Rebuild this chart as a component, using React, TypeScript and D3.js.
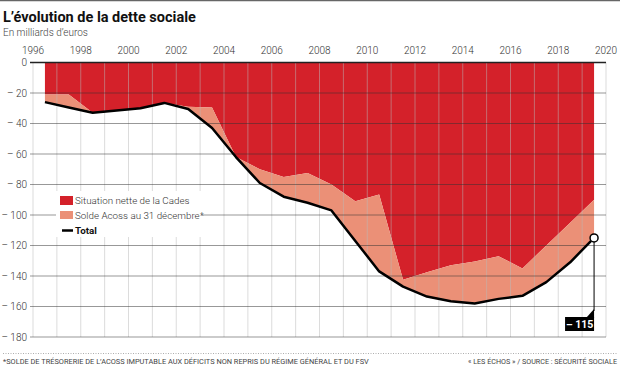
import React from 'react';
import * as d3 from 'd3';

const years = [1996, 1997, 1998, 1999, 2000, 2001, 2002, 2003, 2004, 2005, 2006, 2007, 2008, 2009, 2010, 2011, 2012, 2013, 2014, 2015, 2016, 2017, 2018, 2019];
const cades = [-21, -21, -33, -31.5, -30, -26.5, -29, -29.5, -62, -70, -75, -72.5, -80, -91, -86.5, -142.5, -137.5, -133, -130.5, -127, -135, -120, -105, -90];
const total = [-26, -29.5, -33, -31.5, -30, -26.5, -30.5, -43, -62, -79, -88, -92, -97, -117, -137, -147, -153.5, -156.5, -158, -155, -153, -144, -131, -115];
const xTickLabels = [1996, 1998, 2000, 2002, 2004, 2006, 2008, 2010, 2012, 2014, 2016, 2018, 2020];
const yTicks = [0, -20, -40, -60, -80, -100, -120, -140, -160, -180];
const gridYears = [1996, 1997, 1998, 1999, 2000, 2001, 2002, 2003, 2004, 2005, 2006, 2007, 2008, 2009, 2010, 2011, 2012, 2013, 2014, 2015, 2016, 2017, 2018, 2019, 2020];
const lastValue = -115;

const RED = '#d4212a';
const SALMON = '#eb9077';
const FONT = 'Roboto, sans-serif';

export default function App() {
  const W = 620, H = 367;
  const x = d3.scaleLinear().domain([1996, 2020]).range([33, 606]);
  const y = d3.scaleLinear().domain([0, -180]).range([62.5, 337]);
  const data = years.map((yr, i) => ({ yr, c: cades[i], t: total[i] }));
  const px = (d: any) => x(d.yr + 0.5);

  const redArea = d3.area<any>().x(px).y0(y(0)).y1(d => y(d.c))(data) || '';
  const salmonArea = d3.area<any>().x(px).y0(d => y(d.c)).y1(d => y(d.t))(data) || '';
  const totalLine = d3.line<any>().x(px).y(d => y(d.t))(data) || '';

  const fmt = (v: number) => (v === 0 ? '0' : '\u2013 ' + Math.abs(v));
  const lx = x(years[years.length - 1] + 0.5);
  const ly = y(lastValue);

  return (
    <svg width={W} height={H} style={{ position: 'absolute', left: 0, top: 0, background: '#fff' }} fontFamily={FONT}>
      <line x1={0} x2={W} y1={0.5} y2={0.5} stroke="#666" strokeWidth={1.5} />
      <text x={3} y={22} fontSize={14.5} fontWeight={700} fill="#111">L’évolution de la dette sociale</text>
      <text x={3} y={35.5} fontSize={10} fill="#444" fontWeight={300}>En milliards d’euros</text>

      {xTickLabels.map(t => (
        <text key={t} x={x(t)} y={54} fontSize={10} textAnchor="middle" fill="#333" fontWeight={300}>{t}</text>
      ))}

      <path d={redArea} fill={RED} />
      <path d={salmonArea} fill={SALMON} />

      {gridYears.map(g => (
        <line key={g} x1={x(g)} x2={x(g)} y1={y(0)} y2={y(-180)} stroke="rgba(185,185,185,0.5)" strokeWidth={1} />
      ))}
      {yTicks.map(t => (
        <g key={t}>
          <line x1={30} x2={606} y1={y(t)} y2={y(t)} stroke={t === 0 ? '#222' : 'rgba(50,50,50,0.5)'} strokeWidth={t === 0 ? 1.3 : 1} />
          <text x={27} y={y(t) + 3.5} fontSize={10} textAnchor="end" fill="#333" fontWeight={300}>{fmt(t)}</text>
        </g>
      ))}

      <path d={totalLine} fill="none" stroke="#000" strokeWidth={2.5} strokeLinejoin="round" />

      <line x1={lx} x2={lx} y1={ly} y2={311} stroke="#000" strokeWidth={1} />
      <circle cx={lx} cy={ly} r={4} fill="#fff" stroke="#000" strokeWidth={1.5} />
      <path d={`M${lx},${309} L${lx},${318} L${lx - 8},${318} Z`} fill="#000" />
      <rect x={lx - 29} y={317} width={29} height={14} fill="#000" />
      <text x={lx - 14.5} y={328} fontSize={10.5} fontWeight={700} fill="#fff" textAnchor="middle">{fmt(lastValue)}</text>

      <rect x={56} y={191} width={145} height={46} fill="#fff" />
      <rect x={60} y={196} width={13} height={9} fill={RED} />
      <text x={75} y={204} fontSize={9.8} fill="#333" fontWeight={300}>Situation nette de la Cades</text>
      <rect x={60} y={211} width={13} height={8} fill={SALMON} />
      <text x={75} y={218.5} fontSize={9.8} fill="#333" fontWeight={300}>Solde Acoss au 31 décembre*</text>
      <line x1={62} x2={73} y1={230.5} y2={230.5} stroke="#000" strokeWidth={2.5} />
      <text x={75} y={234} fontSize={9.8} fill="#111" fontWeight={700}>Total</text>

      <line x1={3} x2={617} y1={353.5} y2={353.5} stroke="#999" strokeWidth={0.8} strokeDasharray="1,1.5" />
      <text x={3} y={364} fontSize={7.4} fill="#444">*SOLDE DE TRÉSORERIE DE L’ACOSS IMPUTABLE AUX DÉFICITS NON REPRIS DU RÉGIME GÉNÉRAL ET DU FSV</text>
      <text x={617} y={364} fontSize={7.2} fill="#444" textAnchor="end">« LES ÉCHOS » / SOURCE : SÉCURITÉ SOCIALE</text>
    </svg>
  );
}
